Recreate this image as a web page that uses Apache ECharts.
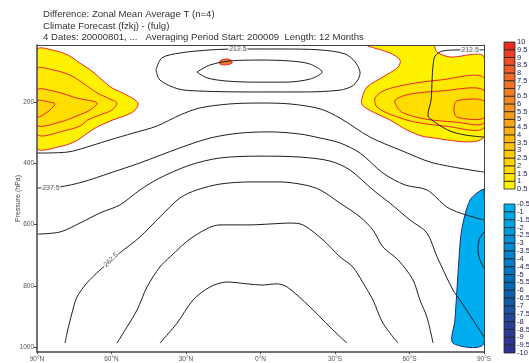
<!DOCTYPE html>
<html><head><meta charset="utf-8">
<script src="https://cdn.jsdelivr.net/npm/echarts@6/dist/echarts.min.js"></script>
<style>html,body{margin:0;padding:0;background:#fff}#c{width:529px;height:363px}</style>
</head><body><div id="c"></div>
<script>
// ---- axes / ticks ----
const yTicks = [200, 400, 600, 800, 1000];
// ---- colour scale ----
const posLevels = [0.5,1,1.5,2,2.5,3,3.5,4,4.5,5,5.5,6,6.5,7,7.5,8,8.5,9,9.5,10];
const posColors = ['#FFF200','#FFE800','#FFDD00','#FFD400','#FFCB05','#FFC20E','#FDB913','#FBAF17','#F9A51B','#F79B1E','#F69121','#F48723','#F37D25','#F17327','#EF6828','#EE5C28','#EC4F27','#EA3F26','#E82A25'];
const negLevels = [-0.5,-1,-1.5,-2,-2.5,-3,-3.5,-4,-4.5,-5,-5.5,-6,-6.5,-7,-7.5,-8,-8.5,-9,-9.5,-10];
const negColors = ['#00AEEF','#00A7EA','#00A0E4','#0099DE','#0092D8','#008BD2','#0084CC','#007DC6','#0076C0','#006FBA','#0068B4','#0A60AE','#1458A8','#1C50A2','#22489C','#284096','#2B3A94','#2D3493','#2E3192'];

// ---- difference fill contours [lat, hPa] ----
const leftPos05 = [[90,31],[81.9,35],[77.5,48],[72.7,74],[67.9,100],[63.8,129],[59.8,155],[53.8,178],[49.3,204],[50.5,227],[53.8,243],[59.4,259],[65.8,282],[70.7,308],[74.3,328],[79.9,344],[90,350]];
const leftPos10 = [[90,93],[83.6,96],[76.7,113],[71.5,139],[65.8,171],[60.6,191],[57.8,204],[59.8,227],[64.6,243],[69.5,259],[72.7,279],[77.9,292],[90,305]];
const leftPos15 = [[90,162],[81.9,168],[73.9,188],[65.8,204],[68.7,227],[73.9,246],[80.7,266],[90,276]];
const leftPos20 = [[90,197],[84.8,201],[82.8,207],[84.8,227],[87.6,243],[90,250]];
const rightPos05 = [[-42.9,15],[-52.1,41],[-56.2,64],[-55.4,87],[-49.3,119],[-42.9,152],[-40.9,188],[-40.9,210],[-45.3,233],[-52.1,259],[-59,292],[-67,315],[-90,315],[-90,54],[-76.3,54],[-71.1,38],[-69.5,15]];
const rightPos10 = [[-90,122],[-72.3,129],[-60.2,142],[-50.1,162],[-46.1,188],[-46.9,217],[-52.9,243],[-62.2,266],[-74.3,279],[-90,285]];
const rightPos15 = [[-90,162],[-72.3,165],[-60.2,175],[-54.2,194],[-55,217],[-57.4,236],[-66.2,256],[-78.3,266],[-90,269]];
const rightPos20 = [[-90,197],[-79.1,197],[-77.9,227],[-79.1,250],[-90,253]];
const tropSpot = [[16.3,67],[14.3,61],[11.9,64],[11.5,74],[13.9,80],[16.3,77]];
const southNeg05 = [[-90,487],[-87.2,497],[-84.4,520],[-82.3,569],[-80.7,634],[-79.9,715],[-79.1,813],[-78.3,911],[-77.5,986],[-90,986]];

// ---- temperature contours [lat, hPa] ----
const t200 = [[25.6,103],[20.3,80],[12.3,67],[0.2,64],[-11.9,67],[-19.9,77],[-24.8,103],[-19.9,126],[-9.9,136],[2.2,136],[14.3,132],[21.5,122],[25.6,103]];
const t212Trop = [[42.1,96],[39.7,57],[32.4,41],[20.3,31],[8.3,28],[-7.9,28],[-24,31],[-34,44],[-38.1,70],[-40.1,106],[-37.6,145],[-32,162],[-15.9,168],[4.2,168],[24.4,165],[33.2,158],[40.5,129],[42.1,96]];
const t212South = [[-90,31],[-80.3,31],[-73.1,35],[-70.3,51],[-69.5,80],[-69.1,129],[-68.7,194],[-67.4,243],[-70.7,269],[-76.3,295],[-82.3,308],[-90,315]];
const t225 = [[90,367],[77.9,364],[67.4,341],[60.6,324],[51.3,302],[41.7,279],[32.4,243],[24.4,220],[12.3,207],[0.2,204],[-11.9,207],[-24,223],[-32,253],[-44.1,315],[-56.2,357],[-69.5,399],[-90,429]];
const t237 = [[90,481],[80.7,477],[71.5,461],[60.6,432],[48.5,399],[32.4,350],[20.3,318],[8.3,302],[-3.8,298],[-15.9,305],[-24,318],[-32,334],[-40.1,367],[-49.3,432],[-58.2,471],[-67,487],[-75.1,543],[-80.3,562],[-90,585]];
const t250 = [[90,631],[80.7,624],[72.7,595],[64.6,562],[56.6,536],[48.5,487],[40.5,448],[28.4,406],[16.3,383],[0.2,377],[-15.9,380],[-28,393],[-36,422],[-45.3,487],[-52.1,530],[-60.2,585],[-67,627],[-71.1,705],[-77.5,813],[-80.3,846],[-85.6,911],[-90,966]];
const t262 = [[78.7,986],[77.9,953],[75.9,888],[73.9,836],[69.9,790],[64.6,748],[59.8,715],[56.6,692],[48.5,640],[40.5,575],[32.4,513],[25.6,487],[16.3,468],[4.2,461],[-7.9,461],[-17.9,471],[-24,487],[-32,530],[-40.1,575],[-45.3,618],[-49.3,673],[-55.4,715],[-61.4,780],[-64.2,846],[-67,901],[-69.5,986]];
const t275 = [[57.8,986],[53.8,934],[49.7,878],[45.7,803],[40.5,738],[36.4,705],[27.2,640],[16.3,601],[4.2,601],[-3.8,598],[-11.9,595],[-17.1,601],[-25.2,650],[-32,705],[-37.2,738],[-41.3,790],[-45.3,846],[-49.3,921],[-55.4,986]];
const t287 = [[40.5,986],[33.6,921],[27.2,846],[20.3,803],[13.5,787],[5.4,793],[-0.6,797],[-6.6,793],[-10.7,803],[-19.9,868],[-28,934],[-34.8,986]];
const tPolarBump = [[-90,624],[-88,650],[-87.6,683],[-88.4,715],[-90,741]];

// ---- contour labels ----
const labelText = ['212.5', '212.5', '237.5', '262.5'];
const labelPos = [[9.1,28],[-84.4,31],[84.4,481],[60.2,715]];
const labelRot = [0, 0, 0, 45];

const FONT = 'Liberation Sans, Arial, sans-serif';
const chart = echarts.init(document.getElementById('c'), null, {renderer: 'canvas'});

function fillSeries(pts, fill, stroke, z) {
  return {
    type: 'custom', xAxisIndex: 0, yAxisIndex: 0, silent: true, clip: true, z: z,
    animation: false, data: [[0, 500]],
    renderItem: function (params, api) {
      return {type: 'polygon', shape: {points: pts.map(function (p) { return api.coord(p); }), smooth: 0.3},
        style: {fill: fill, stroke: stroke, lineWidth: 1}};
    }
  };
}
function lineSeries(pts) {
  return {type: 'line', xAxisIndex: 0, yAxisIndex: 0, data: pts, showSymbol: false, symbol: 'none',
    smooth: 0.3, silent: true, z: 4, animation: false, clip: true,
    lineStyle: {color: '#1e1e1e', width: 1}};
}
function barSeries(levels, colors, axisIdx) {
  return {
    type: 'custom', xAxisIndex: axisIdx, yAxisIndex: axisIdx, silent: true, animation: false,
    data: colors.map(function (c, i) { return [levels[i], levels[i + 1]]; }),
    renderItem: function (params, api) {
      var a = api.coord([0, api.value(0)]), b = api.coord([1, api.value(1)]);
      return {type: 'rect', shape: {x: Math.min(a[0], b[0]), y: Math.min(a[1], b[1]), width: Math.abs(b[0] - a[0]), height: Math.abs(b[1] - a[1])},
        style: {fill: colors[params.dataIndex], stroke: '#222', lineWidth: 0.8}};
    }
  };
}
function barLabelSeries(levels, axisIdx) {
  return {
    type: 'custom', xAxisIndex: axisIdx, yAxisIndex: axisIdx, silent: true, animation: false, z: 5,
    data: levels.map(function (v) { return [1, v]; }),
    renderItem: function (params, api) {
      var p = api.coord([1, api.value(1)]);
      return {type: 'text', x: p[0] + 2, y: p[1],
        style: {text: String(levels[params.dataIndex]), fontSize: 7.5, fontFamily: FONT, fill: '#1c1c4c',
          align: 'left', verticalAlign: 'middle'}};
    }
  };
}

const series = [
  fillSeries(leftPos05, posColors[0], '#E8262A', 1),
  fillSeries(leftPos10, posColors[1], '#E8262A', 1),
  fillSeries(leftPos15, posColors[2], '#E8262A', 1),
  fillSeries(leftPos20, posColors[3], '#E8262A', 1),
  fillSeries(rightPos05, posColors[0], '#E8262A', 1),
  fillSeries(rightPos10, posColors[1], '#E8262A', 1),
  fillSeries(rightPos15, posColors[2], '#E8262A', 1),
  fillSeries(rightPos20, posColors[3], '#E8262A', 1),
  fillSeries(southNeg05, negColors[0], '#1B2A7A', 1),
  fillSeries(tropSpot, posColors[12], '#E8262A', 2),
  lineSeries(t200), lineSeries(t212Trop), lineSeries(t212South), lineSeries(t225),
  lineSeries(t237), lineSeries(t250), lineSeries(t262), lineSeries(t275), lineSeries(t287),
  lineSeries(tPolarBump),
  {
    type: 'scatter', xAxisIndex: 0, yAxisIndex: 0, symbolSize: 0, silent: true, z: 6, animation: false,
    data: labelText.map(function (t, i) { return {value: labelPos[i], name: t, label: {rotate: labelRot[i]}}; }),
    label: {show: true, position: 'inside', formatter: '{b}', fontSize: 7, fontFamily: FONT, color: '#333',
      backgroundColor: '#fff', padding: [0, 1]}
  },
  barSeries(posLevels, posColors, 1),
  barSeries(negLevels, negColors, 2),
  barLabelSeries(posLevels, 1),
  barLabelSeries(negLevels, 2)
];

const frameLine = {show: true, onZero: false, lineStyle: {color: '#444', width: 1}};
chart.setOption({
  animation: false,
  backgroundColor: '#fff',
  title: {
    text: 'Difference: Zonal Mean Average T (n=4)\nClimate Forecast (fzkj) - (fulg)\n4 Dates: 20000801, ...   Averaging Period Start: 200009  Length: 12 Months',
    left: 38, top: 4,
    textStyle: {fontSize: 9.6, fontWeight: 'normal', color: '#333', fontFamily: FONT, lineHeight: 11.5}
  },
  grid: [
    {left: 37, top: 45, width: 447, height: 307, outerBoundsMode: 'none', containLabel: false},
    {left: 504, top: 42, width: 11, height: 147, outerBoundsMode: 'none', containLabel: false},
    {left: 504, top: 204, width: 11, height: 149, outerBoundsMode: 'none', containLabel: false}
  ],
  xAxis: [
    {type: 'value', gridIndex: 0, min: -90, max: 90, interval: 30, inverse: true, z: 10,
      axisLine: {show: true, onZero: false, lineStyle: {color: '#444', width: 1.5}},
      axisTick: {show: true, length: 2, lineStyle: {color: '#444'}},
      splitLine: {show: false},
      axisLabel: {fontSize: 6.5, color: '#555', fontFamily: FONT, margin: 4, showMinLabel: true, showMaxLabel: true,
        formatter: function (v) { return v > 0 ? v + '°N' : (v < 0 ? (-v) + '°S' : '0°N'); }}},
    {type: 'value', gridIndex: 1, min: 0, max: 1, show: false},
    {type: 'value', gridIndex: 2, min: 0, max: 1, show: false},
    {type: 'value', gridIndex: 0, position: 'top', min: 0, max: 1, z: 10, axisLine: frameLine,
      axisTick: {show: false}, axisLabel: {show: false}, splitLine: {show: false}}
  ],
  yAxis: [
    {type: 'value', gridIndex: 0, min: 15, max: 1015, inverse: true, z: 10,
      name: 'Pressure (hPa)', nameLocation: 'middle', nameGap: 15, nameMoveOverlap: false,
      nameTextStyle: {fontSize: 7, color: '#444', fontFamily: FONT},
      axisLine: {show: true, onZero: false, lineStyle: {color: '#444', width: 1.5}},
      axisTick: {show: true, length: 3, customValues: yTicks, lineStyle: {color: '#444'}},
      splitLine: {show: false},
      axisLabel: {fontSize: 6.5, color: '#555', fontFamily: FONT, margin: 3, customValues: yTicks,
        formatter: function (v) { return String(v); }}},
    {type: 'value', gridIndex: 1, min: 0.5, max: 10, show: false},
    {type: 'value', gridIndex: 2, min: -10, max: -0.5, show: false},
    {type: 'value', gridIndex: 0, position: 'right', min: 0, max: 1, z: 10, axisLine: frameLine,
      axisTick: {show: false}, axisLabel: {show: false}, splitLine: {show: false}}
  ],
  series: series
});
</script>
</body></html>
